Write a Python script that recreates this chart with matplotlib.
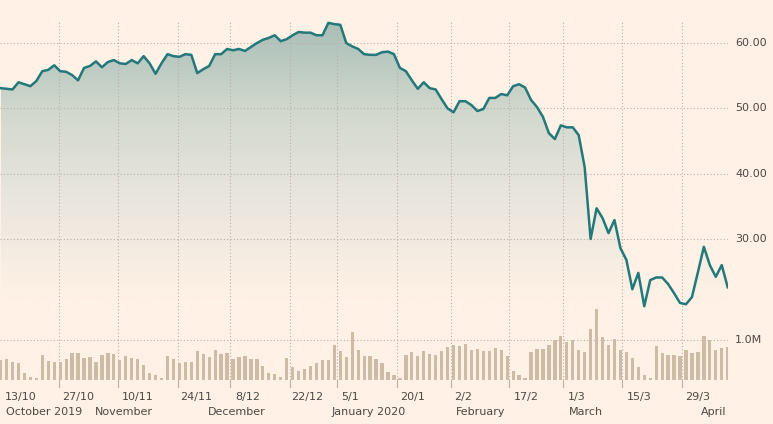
import matplotlib
matplotlib.use("Agg")
import matplotlib.pyplot as plt
import numpy as np
from matplotlib.colors import LinearSegmentedColormap

price = [53.1,53.0,52.9,54.0,53.7,53.4,54.2,55.7,55.9,56.6,55.7,55.6,55.1,54.3,56.2,56.5,57.2,56.3,57.1,57.4,
         56.9,56.8,57.4,56.9,58.0,56.9,55.3,56.9,58.3,58.0,57.9,58.3,58.2,55.4,56.0,56.5,58.3,58.3,59.1,58.9,
         59.1,58.8,59.4,60.0,60.5,60.8,61.2,60.3,60.6,61.2,61.7,61.6,61.6,61.2,61.2,63.1,62.9,62.8,60.0,59.5,
         59.1,58.3,58.2,58.2,58.6,58.7,58.3,56.2,55.7,54.3,53.0,54.0,53.1,52.9,51.4,50.0,49.4,51.1,51.1,50.5,
         49.6,49.9,51.6,51.6,52.2,52.0,53.4,53.7,53.2,51.3,50.2,48.7,46.2,45.3,47.4,47.1,47.1,45.9,41.0,30.0,
         34.7,33.2,30.9,32.9,28.6,26.8,22.3,24.8,19.7,23.7,24.1,24.1,23.1,21.7,20.2,20.0,21.1,24.9,28.8,26.0,
         24.2,26.0,22.6]
volume = [0.50,0.52,0.46,0.43,0.17,0.08,0.04,0.63,0.48,0.46,0.46,0.52,0.68,0.68,0.54,0.57,0.46,0.62,0.68,0.65,
          0.50,0.60,0.54,0.52,0.38,0.18,0.13,0.04,0.60,0.52,0.43,0.46,0.46,0.73,0.65,0.58,0.75,0.65,0.67,0.52,
          0.58,0.60,0.52,0.52,0.35,0.18,0.15,0.07,0.54,0.33,0.23,0.27,0.35,0.42,0.50,0.50,0.88,0.73,0.58,1.21,
          0.75,0.60,0.60,0.52,
          0.43,0.21,0.13,0.04,0.63,0.71,0.60,0.73,0.65,0.63,0.73,0.83,0.88,0.85,0.90,0.75,0.77,0.73,0.73,0.79,
          0.75,0.60,0.23,0.13,0.04,0.71,0.77,0.77,0.88,1.00,1.10,0.96,1.00,0.75,0.71,1.27,1.77,1.07,0.88,1.02,
          0.75,0.71,0.54,0.33,0.13,0.04,0.85,0.68,0.63,0.63,0.60,0.75,0.68,0.71,1.10,1.00,0.75,0.79,0.82]
grid_pos = [9.72,19.78,29.83,38.55,48.6,56.48,66.53,75.58,85.3,94.35,104.24,114.3]
tick_labels = ["13/10","27/10","10/11","24/11","8/12","22/12","5/1","20/1","2/2","17/2","1/3","15/3","29/3"]
tick_label_pos = [3.35,13.07,22.96,32.85,41.4,51.45,58.66,69.2,77.6,88.15,96.7,107.1,116.98]
month_labels = ["October 2019","November","December","January 2020","February","March","April"]
month_pos = [0.84,15.9,34.7,55.5,76.4,95.4,121.8]
price_ticks = [30,40,50,60]

BG = "#FFF1E5"
LINE = "#22787A"
BAR = "#CEBBA5"
TXT = "#4d4845"
GRID = "#b9b0a8"

x = np.arange(len(price))
fig = plt.figure(figsize=(7.73, 4.24), dpi=100, facecolor=BG)
ax = fig.add_axes([0, 1-380/424, 728/773, 380/424])
ax.set_facecolor(BG)
ax.set_xlim(-0.1, len(price)-0.95)
ylo, yhi = 8.4, 66.6
ax.set_ylim(ylo, yhi)

# gradient fill under line
poly = ax.fill_between(x, price, ylo, color="none", lw=0)
cmap = LinearSegmentedColormap.from_list("g", [BG, "#ebe7de", "#d2d8ce", "#a6bdb6"])
grad = np.linspace(0, 1, 256).reshape(-1, 1)
grad = np.clip((grad - 0.22) / 0.78, 0, 1)
im = ax.imshow(grad, extent=[x[0], x[-1], ylo, 64], origin="lower", aspect="auto",
               cmap=cmap, zorder=1)
path = poly.get_paths()[0]
im.set_clip_path(path, transform=ax.transData)

ax.plot(x, price, color=LINE, lw=1.8, zorder=4, solid_joinstyle="round")

# horizontal grid
for p in price_ticks:
    ax.axhline(p, color=GRID, lw=0.8, ls=(0, (1, 2)), zorder=2)
    fig.text(735/773, (ax.transData.transform((0, p))[1]) / 424, f"{p:.2f}",
             color=TXT, fontsize=8, va="center", ha="left")
# vertical grid
ytop = 63.6
for g in grid_pos:
    ax.plot([g, g], [ylo, ytop], color=GRID, lw=0.8, ls=(0, (1, 2)), zorder=2)
    ax.plot([g, g], [ylo, ylo - 1.0], color=GRID, lw=0.8, clip_on=False)

# volume
vax = ax.twinx()
vax.set_ylim(0, 380/40)
vax.set_xlim(ax.get_xlim())
vax.bar(x, volume, width=0.55, color=BAR, zorder=3)
vax.axhline(1.0, color=GRID, lw=0.8, ls=(0, (1, 2)), zorder=2)
fig.text(735/773, 1 - 340/424, "1.0M", color=TXT, fontsize=8, va="center", ha="left")

for a in (ax, vax):
    a.set_xticks([]); a.set_yticks([])
    for s in a.spines.values():
        s.set_visible(False)

for lab, pos in zip(tick_labels, tick_label_pos):
    ax.text(pos, -0.045, lab, transform=ax.get_xaxis_transform(), ha="center", va="center",
            color=TXT, fontsize=8)
for i, (lab, pos) in enumerate(zip(month_labels, month_pos)):
    ha = "right" if i == len(month_labels)-1 else "left"
    ax.text(pos, -0.085, lab, transform=ax.get_xaxis_transform(), ha=ha,
            va="center", color=TXT, fontsize=8)

fig.savefig("out.png", dpi=100, facecolor=BG)
